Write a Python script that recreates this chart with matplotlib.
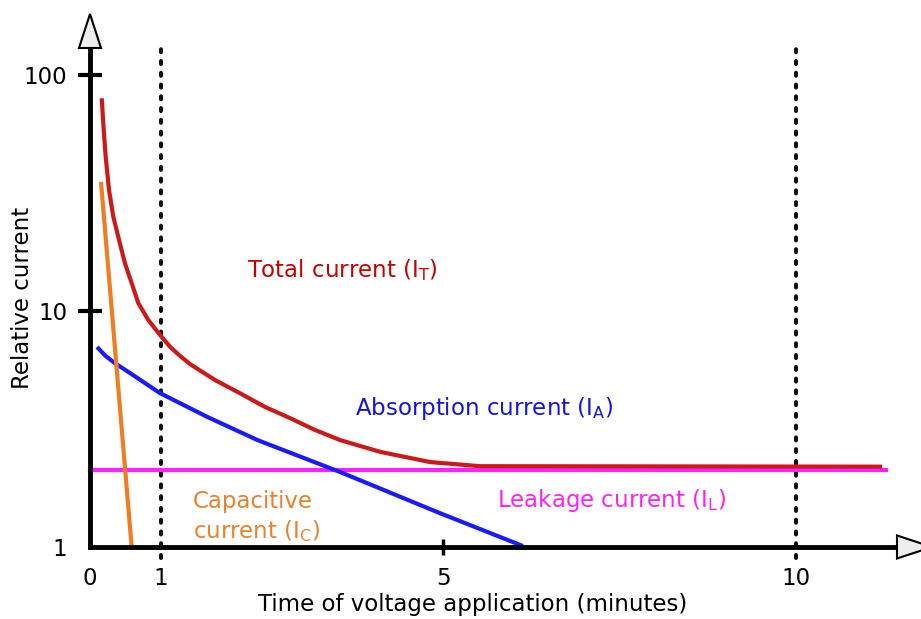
import matplotlib
matplotlib.use("Agg")
import matplotlib.pyplot as plt
from matplotlib.patches import Polygon
from matplotlib.ticker import NullLocator

plt.rcParams['font.family'] = ['DejaVu Sans']
plt.rcParams['mathtext.fontset'] = 'dejavusans'
plt.rcParams['mathtext.default'] = 'regular'

# ---- data (time in minutes, relative current on log scale) ----
total_t = [0.166, 0.188, 0.222, 0.269, 0.330, 0.411, 0.496, 0.591, 0.684, 0.826, 0.992,
           1.133, 1.27, 1.42, 1.77, 2.12, 2.48, 2.83, 3.19, 3.54, 4.11, 4.82, 5.52, 11.22]
total_i = [79.7, 62.4, 45.1, 32.6, 25.1, 20.0, 15.9, 13.1, 10.8, 9.16, 7.91,
           7.06, 6.47, 5.95, 5.10, 4.49, 3.92, 3.52, 3.13, 2.84, 2.53, 2.29, 2.20, 2.19]

absorption_t = [0.10, 0.22, 0.35, 0.57, 0.99, 1.66, 2.37, 3.54, 4.96, 6.13]
absorption_i = [7.04, 6.45, 6.02, 5.45, 4.49, 3.56, 2.84, 2.08, 1.39, 1.01]

capacitive_t = [0.156, 0.59]
capacitive_i = [35.2, 1.0]

leakage_t = [0.0, 11.27]
leakage_i = [2.13, 2.13]

marker_times = [1, 10]
xticks = [0, 1, 5, 10]
xticklabels = ['0', '1', '5', '10']
yticks = [1, 10, 100]
yticklabels = ['1', '10', '100']

# ---- figure ----
W, H = 921, 619
fig = plt.figure(figsize=(W / 100, H / 100), dpi=100)
ax_l, ax_r, ax_b, ax_t = 90, 921, 547, 14
ax = fig.add_axes([ax_l / W, (H - ax_b) / H, (ax_r - ax_l) / W, (ax_b - ax_t) / H])
ax.set_yscale('log')
ax.set_xlim(0, (ax_r - ax_l) / 70.6)
ax.set_ylim(1, 10 ** ((ax_b - ax_t) / 236))
ax.patch.set_alpha(0)
for s in ax.spines.values():
    s.set_visible(False)

aw, ah = ax_r - ax_l, ax_b - ax_t  # axes size in px

FS = 16.5
LW = 3.0
red_line, red_text = '#cc1a1a', '#c80000'
blue_line, blue_text = '#1a1aff', '#1414e6'
mag_line, mag_text = '#ff22ff', '#ff22ee'
org_line, org_text = '#ef7d22', '#e8822e'

# reference vertical dotted lines
for t in marker_times:
    ax.axvline(t, ymin=(ax_b - 558) / ah, ymax=(ax_b - 42) / ah, color='#111111',
               lw=2.9, ls=(0, (0.75, 2.17)), dash_capstyle='round', clip_on=False, zorder=2)

# curves
ax.plot(leakage_t, leakage_i, color=mag_line, lw=LW, zorder=3, clip_on=False)
ax.plot(total_t, total_i, color=red_line, lw=LW, zorder=3, solid_capstyle='butt',
        solid_joinstyle='round')
ax.plot(absorption_t, absorption_i, color=blue_line, lw=LW, zorder=4, solid_capstyle='butt',
        solid_joinstyle='round')
ax.plot(capacitive_t, capacitive_i, color=org_line, lw=LW, zorder=4, solid_capstyle='butt')

# axis lines with arrowheads
ax.plot([0, (897 - ax_l) / aw], [0, 0], transform=ax.transAxes, color='black', lw=3.5,
        clip_on=False, solid_capstyle='projecting', zorder=5)
ax.plot([0, 0], [0, (ax_b - 48) / ah], transform=ax.transAxes, color='black', lw=3.5,
        clip_on=False, solid_capstyle='projecting', zorder=5)
hw = 11 / aw
ax.add_patch(Polygon([(-hw, (ax_b - 48) / ah), (hw, (ax_b - 48) / ah), (0, 1.0)],
                     closed=True, transform=ax.transAxes, fc='#eeeeee', ec='black',
                     lw=1.5, clip_on=False, zorder=6))
hh = 11.5 / ah
xb = (897 - ax_l) / aw
xtip = (932 - ax_l) / aw
ax.add_patch(Polygon([(xb, -hh), (xb, hh), (xtip, 0)], closed=True, transform=ax.transAxes,
                     fc='#eeeeee', ec='black', lw=1.5, clip_on=False, zorder=6))

# ticks
ax.set_xticks(xticks)
ax.set_xticklabels(xticklabels, fontsize=FS)
ax.set_yticks(yticks)
ax.set_yticklabels(yticklabels, fontsize=FS)
ax.yaxis.set_minor_locator(NullLocator())
ax.tick_params(axis='x', direction='inout', length=11, width=2.5, pad=9, colors='black')
ax.tick_params(axis='y', direction='inout', length=17, width=3, pad=8, colors='black')
for i, tk in enumerate(ax.xaxis.get_major_ticks()):
    if xticks[i] in (0, 1, 10):
        tk.tick1line.set_visible(False)
ax.yaxis.get_major_ticks()[0].tick1line.set_visible(False)

ax.set_xlabel('Time of voltage application (minutes)', fontsize=FS)
ax.xaxis.set_label_coords((473 - ax_l) / aw, (ax_b - 593) / ah)
ax.set_ylabel('Relative current', fontsize=FS)
ax.yaxis.set_label_coords((34 - ax_l) / aw, (ax_b - 298) / ah)

# curve labels
ax.text(2.22, 13.9, 'Total current (I$_{T}$)', color=red_text, fontsize=FS, va='baseline')
ax.text(3.75, 3.63, 'Absorption current (I$_{A}$)', color=blue_text, fontsize=FS, va='baseline')
ax.text(5.76, 1.477, 'Leakage current (I$_{L}$)', color=mag_text, fontsize=FS, va='baseline')
ax.text(1.46, 1.092, 'Capacitive\ncurrent (I$_{C}$)', color=org_text, fontsize=FS,
        va='baseline', linespacing=1.25)

fig.savefig('out.png', dpi=100)
